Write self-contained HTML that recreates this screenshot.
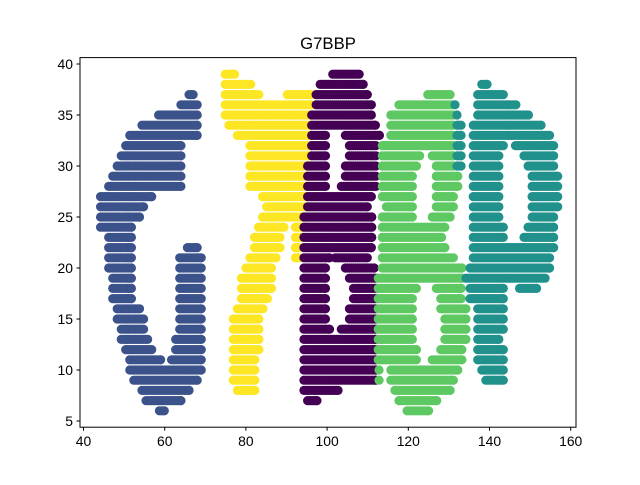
<!DOCTYPE html>
<html><head><meta charset="utf-8"><style>
body{margin:0;background:#fff;}
svg text{font-family:"Liberation Sans","DejaVu Sans",sans-serif;}
</style></head><body>
<svg id="chart" width="640" height="480" viewBox="0 0 640 480" xmlns="http://www.w3.org/2000/svg">
<rect width="640" height="480" fill="#fff"/>
<text x="328" y="49" text-anchor="middle" font-size="16.7">G7BBP</text>
<g id="marks"></g>
<rect x="80" y="57.6" width="496" height="369.6" fill="none" stroke="#000" stroke-width="1"/>
<g id="xticks"></g>
<g id="yticks"></g>
</svg>
<script>
const xTicks=[40,60,80,100,120,140,160];
const yTicks=[5,10,15,20,25,30,35,40];
// rows: [y, xStart, xEnd]
const seriesG=[[37,66,67],[36,64,68],[35,58.5,68],[34,54.4,68],[33,51.4,68],[32,50.4,64],[31,49.3,64],[30,48.3,64],[29,47.2,64],[28,46.2,64],[27,44.2,56.8],[26,44.2,54.8],[25,44.2,53.8],[24,44.2,51.8],[23,46.2,51.8],[22,46.2,51.8],[22,65.6,68],[21,46.2,51.8],[21,63.7,69],[20,46.2,51.8],[20,63.7,69],[19,47.2,51.8],[19,63.7,69],[18,47.2,51.8],[18,63.7,69],[17,47.2,51.8],[17,63.7,69],[16,48.3,53.8],[16,63.7,69],[15,48.3,54.8],[15,63.7,69],[14,49.3,54.8],[14,63.7,69],[13,49.3,55.8],[13,62.7,69],[12,50.4,56.8],[12,62.7,69],[11,51.4,59],[11,61.7,69],[10,51.4,69],[9,52.4,68],[8,54.4,66],[7,55.4,64],[6,58.7,59.9]];
const series7=[[39,74.9,77.2],[38,74.9,81.2],[37,74.9,83.2],[37,90.2,96],[36,74.9,96],[35,74.9,96],[34,75.8,96],[33,77.9,96],[32,81,96],[31,81,96],[30,81,96],[29,81,96],[28,81,95],[27,84.1,95],[26,85.1,95],[25,84.1,95],[24,83.1,89.4],[24,92.2,95],[23,82.1,88.4],[23,92.2,94],[22,82.1,88.4],[22,92.2,93],[21,81,87.4],[21,92.2,93],[20,80,86.3],[19,78.9,86.3],[18,78.9,86.3],[17,78.9,85.3],[16,77.9,84.2],[15,76.9,83.2],[14,76.9,83.2],[13,76.9,83.2],[12,76.9,83.2],[11,76.9,82.2],[10,76.9,82.2],[9,76.9,82.2],[8,77.9,82.2]];
const seriesB1=[[39,101.4,107.9],[38,98.3,108.9],[37,97.3,109.9],[36,97.3,110.9],[35,96.2,110.9],[34,96.2,111.9],[33,96.2,99.6],[33,104.5,112.9],[32,96.2,99.6],[32,105.5,112],[31,96.2,99.6],[31,105.5,112],[30,95.2,99.6],[30,104.5,112],[29,95.2,99.6],[29,104.5,112],[28,95.2,99.6],[28,103.5,112],[27,95.2,110.9],[26,95.2,109.9],[25,94.3,111],[24,94.3,111],[23,94.3,111],[22,94.3,110.9],[21,94.3,100.6],[21,102,109.9],[20,94.3,99.6],[20,104.5,111.6],[19,94.3,99.6],[19,105.5,112],[18,94.3,99.6],[18,106.5,112],[17,94.3,99.6],[17,106.5,112],[16,94.3,99.6],[16,105.5,112],[15,94.3,99.6],[15,105.5,112],[14,94.3,100.6],[14,103.5,112],[13,94.3,112],[12,94.3,112],[11,94.3,112],[10,94.3,112],[9,94.3,112],[8,94.3,102.7],[7,95.2,97.5]];
const seriesB2=[[37,124.8,130.3],[36,117.7,131],[35,115.7,131],[34,115.7,131],[33,115.7,131],[32,113.6,131],[31,113.6,122.8],[31,125.9,131],[30,113.6,122],[30,126.9,131],[29,113.6,121],[29,126.9,132.2],[28,113.6,121],[28,126.9,132.2],[27,113.6,121],[27,126.9,131.1],[26,114.6,121],[26,126.9,131.1],[25,113.6,121],[25,125.9,130.3],[24,113.6,129],[23,113.6,128.2],[22,113.6,129],[21,113.6,131.1],[20,113.6,133.2],[19,112.6,133.2],[18,112.6,122],[18,126.9,133],[17,112.6,121],[17,128,133],[16,112.6,121],[16,128,134.2],[15,112.6,121],[15,129,134.2],[14,112.6,121],[14,129,134.2],[13,112.6,121],[13,129,134.2],[12,112.6,122],[12,128,133.2],[11,112.6,122],[11,125.9,133.2],[10,112.8,112.8],[10,115.7,132.2],[9,112.8,112.8],[9,115.7,131.1],[8,116.7,130.3],[7,117.7,127],[6,119.7,125]];
const seriesP=[[38,138.1,139.4],[37,137.1,143.4],[36,131.5,131.5],[36,137.1,146.5],[35,132,132],[35,137.1,149.6],[34,132,133],[34,136,152.7],[33,132,133],[33,136,154.8],[32,132,133],[32,136,143.4],[32,146.4,155.8],[31,132,133],[31,136,142.3],[31,148.5,155.8],[30,132,133],[30,136,142.3],[30,149.5,155.8],[29,136,142.3],[29,150.5,156.8],[28,136,142.3],[28,150.5,156.8],[27,136,142.3],[27,150.5,156.8],[26,136,142.3],[26,150.5,156.8],[25,136,142.3],[25,150.5,155.8],[24,136,143.4],[24,149.5,155.8],[23,136,143.4],[23,148.5,155.8],[22,136,155.8],[21,136,154.8],[20,135.2,154.8],[19,134.2,153.7],[18,135.2,143.4],[18,147.4,151.6],[17,135.2,143.4],[16,137.1,143.4],[15,137.1,143.4],[14,137.1,143.4],[13,137.1,142.3],[12,137.1,143.4],[11,137.1,143.4],[10,138.1,143.4],[9,139.1,143.4]];

const NS="http://www.w3.org/2000/svg";
function xs(v){return 83.5+(v-40)*4.06;}
function ys(v){return 64+(40-v)*10.2;}
const marks=document.getElementById('marks');
function drawSeries(rows,color,name){
  const g=document.createElementNS(NS,'g');
  
  
  g.setAttribute('fill',color);
  rows.forEach(r=>{
    const y=r[0],a=r[1],b=r[2];
    const pts=[];
    for(let x=a;x<b;x+=0.5)pts.push(x);
    pts.push(b);
    pts.forEach(x=>{
      const c=document.createElementNS(NS,'circle');
      c.setAttribute('cx',xs(x).toFixed(2));
      c.setAttribute('cy',ys(y).toFixed(2));
      c.setAttribute('r','4.6');
      
      
      g.appendChild(c);
    });
  });
  marks.appendChild(g);
}
drawSeries(seriesG,'#3b528b','series-g');
drawSeries(series7,'#fde725','series-7');
drawSeries(seriesB1,'#440154','series-b1');
drawSeries(seriesB2,'#5ec962','series-b2');
drawSeries(seriesP,'#21918c','series-p');

const xg=document.getElementById('xticks');
xTicks.forEach(t=>{
  const x=xs(t);
  const l=document.createElementNS(NS,'line');
  l.setAttribute('x1',x);l.setAttribute('x2',x);l.setAttribute('y1',427.2);l.setAttribute('y2',430.7);
  l.setAttribute('stroke','#000');
  
  
  xg.appendChild(l);
  const tx=document.createElementNS(NS,'text');
  tx.setAttribute('x',x);tx.setAttribute('y',446);tx.setAttribute('text-anchor','middle');tx.setAttribute('font-size','13.9');
  
  
  tx.textContent=t;
  xg.appendChild(tx);
});
const yg=document.getElementById('yticks');
yTicks.forEach(t=>{
  const y=ys(t);
  const l=document.createElementNS(NS,'line');
  l.setAttribute('x1',76.5);l.setAttribute('x2',80);l.setAttribute('y1',y);l.setAttribute('y2',y);
  l.setAttribute('stroke','#000');
  
  
  yg.appendChild(l);
  const tx=document.createElementNS(NS,'text');
  tx.setAttribute('x',73);tx.setAttribute('y',y+5);tx.setAttribute('text-anchor','end');tx.setAttribute('font-size','13.9');
  
  
  tx.textContent=t;
  yg.appendChild(tx);
});
</script>
</body></html>
